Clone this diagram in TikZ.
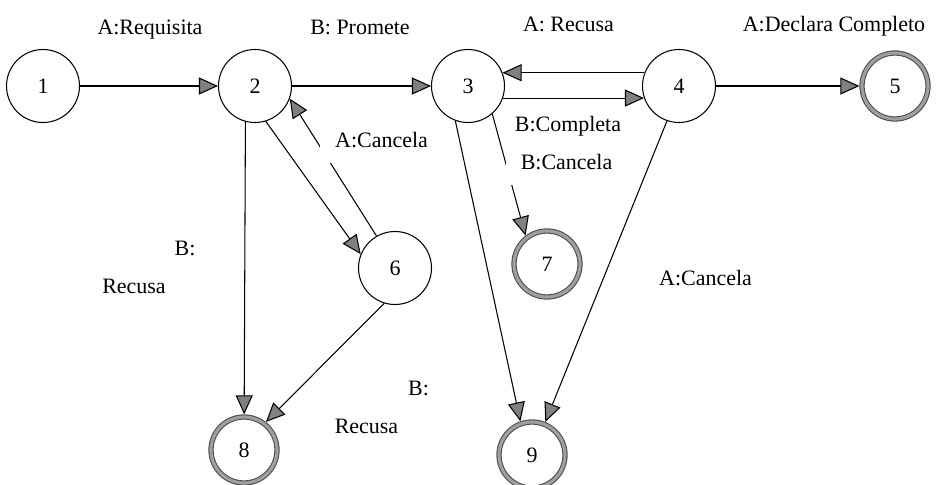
\documentclass[tikz,border=0pt]{standalone}
\usepackage{fontspec}
\setmainfont{Liberation Serif}
\usetikzlibrary{arrows.meta}

\begin{document}
\begin{tikzpicture}
 [state node/.style={circle, minimum size=1.46cm, inner sep=0pt, draw, line width=0.6pt},
  final node/.style={circle, minimum size=1.32cm, inner sep=0pt, outer sep=1.5pt, draw=black!70, line width=0.6pt, double=gray!75, double distance=1.8pt},
  tag/.style={anchor=base, inner sep=0.3cm},
  gap tag/.style={tag, fill=white},
  >={Triangle[length=0.38cm, width=0.34cm, fill=gray]},
  font=\fontsize{12.5}{15}\selectfont]

\useasboundingbox (-0.86,1.72) rectangle (17.92,-7.98);

\node[state node] (1) {1};
   \node[state node] (2) [node distance=4.24cm, right of=1] {2};
\node[state node] (3) [node distance=4.26cm, right of=2] {3};
 \node[state node] (4) [node distance=4.22cm, right of=3] {4};
 \node[final node] (5) [node distance=4.32cm, right of=4] {5};

  \node[state node] (6) [node distance=3.64cm, below of=2, xshift=2.8cm] {6};
  \node[final node] (7) [node distance=3.56cm, below of=3, xshift=1.58cm] {7};
  \node[final node] (8) [node distance=7.28cm, below of=2, xshift=-0.22cm] {8};
  \node[final node] (9) [node distance=7.38cm, below of=3, xshift=1.28cm] {9};

\path[line width=0.6pt]
  (1) edge [->] (2)
  (2) edge [->] (3)
  (3.-19) edge [->] (4.-161)
  (4.159) edge [->] (3.21)
  (4) edge [->] (5)

  (2.-105) edge [->] (8)
  (2.-73) edge [->] (6.158)
  (6.120) edge [->] (2.-20)
  (6.-107) edge [->] (8.52)

  (3.-49) edge [->] (7.127)
  (3.-110) edge [->] (9.109)
  (4.-109) edge [->] (9.68);

  \node[tag] (req) at (2.14,1.02) {A:Requisita};
  \node[tag] (prom) at (6.34,1.02) {B: Promete};
  \node[tag] (recA) at (10.51,1.08) {A: Recusa};
  \node[tag] (decl) at (15.82,1.08) {A:Declara Completo};
  \node[tag] (compl) at (10.5,-0.92) {B:Completa};

  \node[gap tag] (canA) at (6.77,-1.24) {A:Cancela};
  \node[gap tag] (canB) at (10.47,-1.68) {B:Cancela};
  \node[tag] (canC) at (13.25,-3.98) {A:Cancela};

  \node[tag] (recB1) at (2.84,-3.38) {B:};
  \node[tag] (recB2) at (1.82,-4.14) {Recusa};
  \node[tag] (recC1) at (7.51,-6.18) {B:};
  \node[tag] (recC2) at (6.47,-6.94) {Recusa};

\end{tikzpicture}
\end{document}
